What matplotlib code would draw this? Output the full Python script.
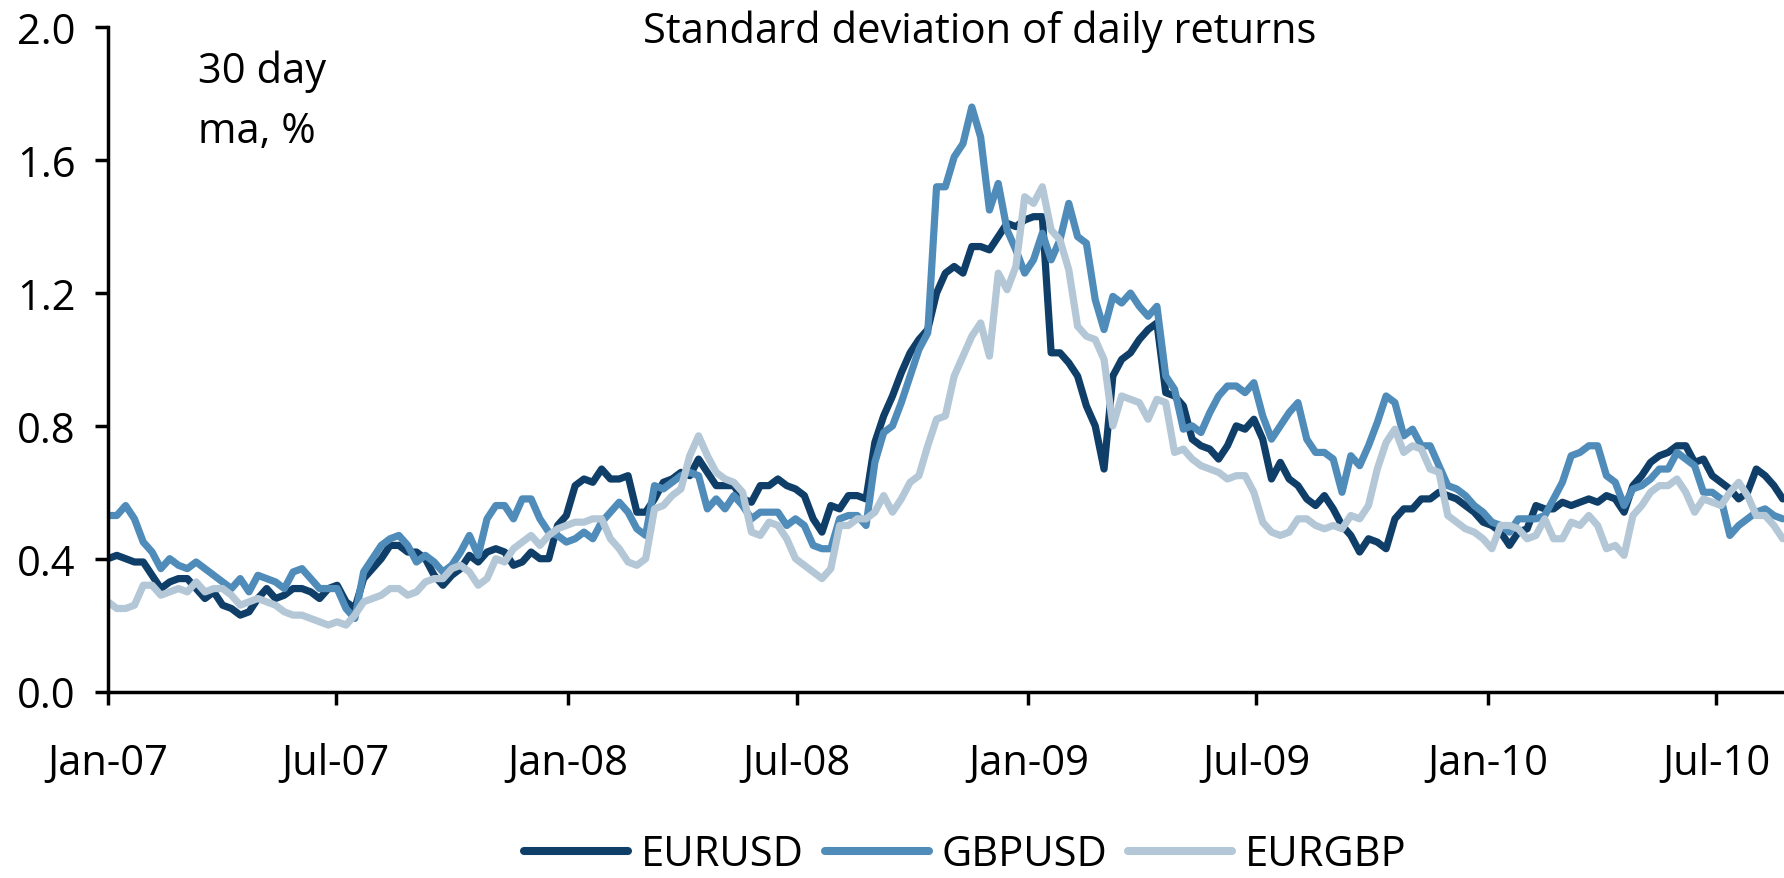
import matplotlib
matplotlib.use('Agg')
import matplotlib.pyplot as plt
import matplotlib.dates as mdates
from matplotlib.ticker import FormatStrFormatter
from matplotlib.lines import Line2D
import pandas as pd

# ---------------- data (weekly readings, 30-day ma of daily return std, %) ----------------
dates = pd.date_range('2007-01-01', periods=191, freq='7D')

eurusd = [
    0.40, 0.41, 0.40, 0.39, 0.39, 0.35, 0.31, 0.33, 0.34, 0.34,
    0.31, 0.28, 0.30, 0.26, 0.25, 0.23, 0.24, 0.28, 0.31, 0.28,
    0.29, 0.31, 0.31, 0.30, 0.28, 0.31, 0.32, 0.27, 0.25, 0.34,
    0.37, 0.40, 0.44, 0.44, 0.42, 0.42, 0.40, 0.35, 0.32, 0.35,
    0.37, 0.41, 0.39, 0.42, 0.43, 0.42, 0.38, 0.39, 0.42, 0.40,
    0.40, 0.50, 0.53, 0.62, 0.64, 0.63, 0.67, 0.64, 0.64, 0.65,
    0.54, 0.54, 0.58, 0.63, 0.64, 0.66, 0.65, 0.70, 0.66, 0.62,
    0.62, 0.62, 0.58, 0.57, 0.62, 0.62, 0.64, 0.62, 0.61, 0.59,
    0.52, 0.48, 0.56, 0.55, 0.59, 0.59, 0.58, 0.75, 0.83, 0.89,
    0.96, 1.02, 1.06, 1.09, 1.20, 1.26, 1.28, 1.26, 1.34, 1.34,
    1.33, 1.37, 1.41, 1.40, 1.42, 1.43, 1.43, 1.02, 1.02, 0.99,
    0.95, 0.86, 0.80, 0.67, 0.95, 1.00, 1.02, 1.06, 1.09, 1.11,
    0.90, 0.89, 0.86, 0.76, 0.74, 0.73, 0.70, 0.74, 0.80, 0.79,
    0.82, 0.76, 0.64, 0.69, 0.64, 0.62, 0.58, 0.56, 0.59, 0.55,
    0.50, 0.47, 0.42, 0.46, 0.45, 0.43, 0.52, 0.55, 0.55, 0.58,
    0.58, 0.60, 0.59, 0.58, 0.56, 0.54, 0.51, 0.50, 0.48, 0.44,
    0.48, 0.49, 0.56, 0.55, 0.55, 0.57, 0.56, 0.57, 0.58, 0.57,
    0.59, 0.58, 0.54, 0.62, 0.65, 0.69, 0.71, 0.72, 0.74, 0.74,
    0.69, 0.70, 0.65, 0.63, 0.61, 0.58, 0.60, 0.67, 0.65, 0.62,
    0.58,
]

gbpusd = [
    0.53, 0.53, 0.56, 0.52, 0.45, 0.42, 0.37, 0.40, 0.38, 0.37,
    0.39, 0.37, 0.35, 0.33, 0.31, 0.34, 0.30, 0.35, 0.34, 0.33,
    0.31, 0.36, 0.37, 0.34, 0.31, 0.31, 0.31, 0.25, 0.22, 0.36,
    0.40, 0.44, 0.46, 0.47, 0.44, 0.39, 0.41, 0.39, 0.36, 0.38,
    0.42, 0.47, 0.41, 0.52, 0.56, 0.56, 0.52, 0.58, 0.58, 0.52,
    0.48, 0.47, 0.45, 0.46, 0.48, 0.46, 0.51, 0.54, 0.57, 0.54,
    0.49, 0.47, 0.62, 0.61, 0.63, 0.65, 0.66, 0.65, 0.55, 0.58,
    0.55, 0.59, 0.56, 0.52, 0.54, 0.54, 0.54, 0.50, 0.52, 0.50,
    0.44, 0.43, 0.43, 0.52, 0.53, 0.53, 0.50, 0.69, 0.78, 0.80,
    0.87, 0.95, 1.03, 1.08, 1.52, 1.52, 1.61, 1.65, 1.76, 1.67,
    1.45, 1.53, 1.39, 1.33, 1.26, 1.30, 1.38, 1.30, 1.36, 1.47,
    1.37, 1.35, 1.18, 1.09, 1.19, 1.17, 1.20, 1.16, 1.13, 1.16,
    0.95, 0.91, 0.79, 0.80, 0.78, 0.84, 0.89, 0.92, 0.92, 0.90,
    0.93, 0.83, 0.76, 0.80, 0.84, 0.87, 0.76, 0.72, 0.72, 0.70,
    0.60, 0.71, 0.68, 0.74, 0.81, 0.89, 0.87, 0.77, 0.79, 0.74,
    0.74, 0.68, 0.62, 0.61, 0.59, 0.56, 0.54, 0.51, 0.50, 0.48,
    0.52, 0.52, 0.52, 0.53, 0.58, 0.63, 0.71, 0.72, 0.74, 0.74,
    0.65, 0.63, 0.56, 0.61, 0.62, 0.64, 0.67, 0.67, 0.72, 0.70,
    0.68, 0.60, 0.60, 0.58, 0.47, 0.50, 0.52, 0.54, 0.55, 0.53,
    0.52,
]

eurgbp = [
    0.27, 0.25, 0.25, 0.26, 0.32, 0.32, 0.29, 0.30, 0.31, 0.30,
    0.33, 0.30, 0.31, 0.31, 0.29, 0.26, 0.27, 0.28, 0.27, 0.26,
    0.24, 0.23, 0.23, 0.22, 0.21, 0.20, 0.21, 0.20, 0.23, 0.27,
    0.28, 0.29, 0.31, 0.31, 0.29, 0.30, 0.33, 0.34, 0.34, 0.37,
    0.38, 0.36, 0.32, 0.34, 0.40, 0.39, 0.43, 0.45, 0.47, 0.44,
    0.47, 0.49, 0.50, 0.51, 0.51, 0.52, 0.52, 0.46, 0.43, 0.39,
    0.38, 0.40, 0.55, 0.56, 0.59, 0.61, 0.71, 0.77, 0.71, 0.66,
    0.64, 0.63, 0.60, 0.48, 0.47, 0.51, 0.50, 0.46, 0.40, 0.38,
    0.36, 0.34, 0.37, 0.50, 0.50, 0.52, 0.52, 0.54, 0.59, 0.54,
    0.58, 0.63, 0.65, 0.74, 0.82, 0.83, 0.95, 1.01, 1.07, 1.11,
    1.01, 1.26, 1.21, 1.28, 1.49, 1.47, 1.52, 1.39, 1.36, 1.27,
    1.10, 1.07, 1.06, 1.00, 0.80, 0.89, 0.88, 0.87, 0.82, 0.88,
    0.87, 0.72, 0.73, 0.70, 0.68, 0.67, 0.66, 0.64, 0.65, 0.65,
    0.60, 0.51, 0.48, 0.47, 0.48, 0.52, 0.52, 0.50, 0.49, 0.50,
    0.49, 0.53, 0.52, 0.56, 0.67, 0.75, 0.79, 0.72, 0.74, 0.73,
    0.67, 0.66, 0.53, 0.51, 0.49, 0.48, 0.46, 0.43, 0.50, 0.50,
    0.49, 0.46, 0.47, 0.52, 0.46, 0.46, 0.51, 0.50, 0.53, 0.50,
    0.43, 0.44, 0.41, 0.53, 0.56, 0.60, 0.62, 0.62, 0.64, 0.60,
    0.54, 0.58, 0.57, 0.56, 0.60, 0.63, 0.59, 0.53, 0.53, 0.50,
    0.46,
]

series_names = ['EURUSD', 'GBPUSD', 'EURGBP']
series_values = [eurusd, gbpusd, eurgbp]
y_ticks = [0.0, 0.4, 0.8, 1.2, 1.6, 2.0]
title_text = 'Standard deviation of daily returns'
unit_line1 = '30 day'
unit_line2 = 'ma, %'

# ---------------- style ----------------
colors = ['#0F3F68', '#508CBA', '#B3C7D7']
plt.rcParams['font.family'] = ['Open Sans', 'DejaVu Sans']
FS = 30
W, H = 1784, 879

fig = plt.figure(figsize=(W / 100, H / 100), dpi=100)
ax = fig.add_axes([108 / W, 1 - 692.5 / H, 1 - 108 / W, (692.5 - 28.4) / H])

for vals, name, c in zip(series_values, series_names, colors):
    ax.plot(dates, vals, color=c, lw=5.2, solid_capstyle='round',
            solid_joinstyle='round', label=name)

ax.set_ylim(0, 2.0)
ax.set_xlim(pd.Timestamp('2007-01-01'), pd.Timestamp('2010-08-24'))
ax.set_yticks(y_ticks)
ax.yaxis.set_major_formatter(FormatStrFormatter('%.1f'))
ax.xaxis.set_major_locator(mdates.MonthLocator(bymonth=[1, 7]))
ax.xaxis.set_major_formatter(mdates.DateFormatter('%b-%y'))

for s in ['top', 'right']:
    ax.spines[s].set_visible(False)
for s in ['left', 'bottom']:
    ax.spines[s].set_linewidth(2.5)
    ax.spines[s].set_color('black')

ax.tick_params(axis='both', length=9.4, width=2.5, labelsize=FS,
               direction='out', colors='black')
ax.tick_params(axis='y', pad=14)
ax.tick_params(axis='x', pad=27)

fig.text(643 / W, 1 - 43 / H, title_text, fontsize=FS, ha='left', va='baseline')
fig.text(198 / W, 1 - 83 / H, unit_line1, fontsize=FS, ha='left', va='baseline')
fig.text(198 / W, 1 - 143 / H, unit_line2, fontsize=FS, ha='left', va='baseline')

handles = [Line2D([0], [0], color=c, lw=5.8, solid_capstyle='round')
           for c in colors]
fig.legend(handles, series_names, loc='center', bbox_to_anchor=(0.541, 0.027),
           ncol=3, frameon=False, fontsize=FS, handlelength=2.5,
           handletextpad=0.3, columnspacing=0.5, borderpad=0, borderaxespad=0)

fig.savefig('out.png', dpi=100)
